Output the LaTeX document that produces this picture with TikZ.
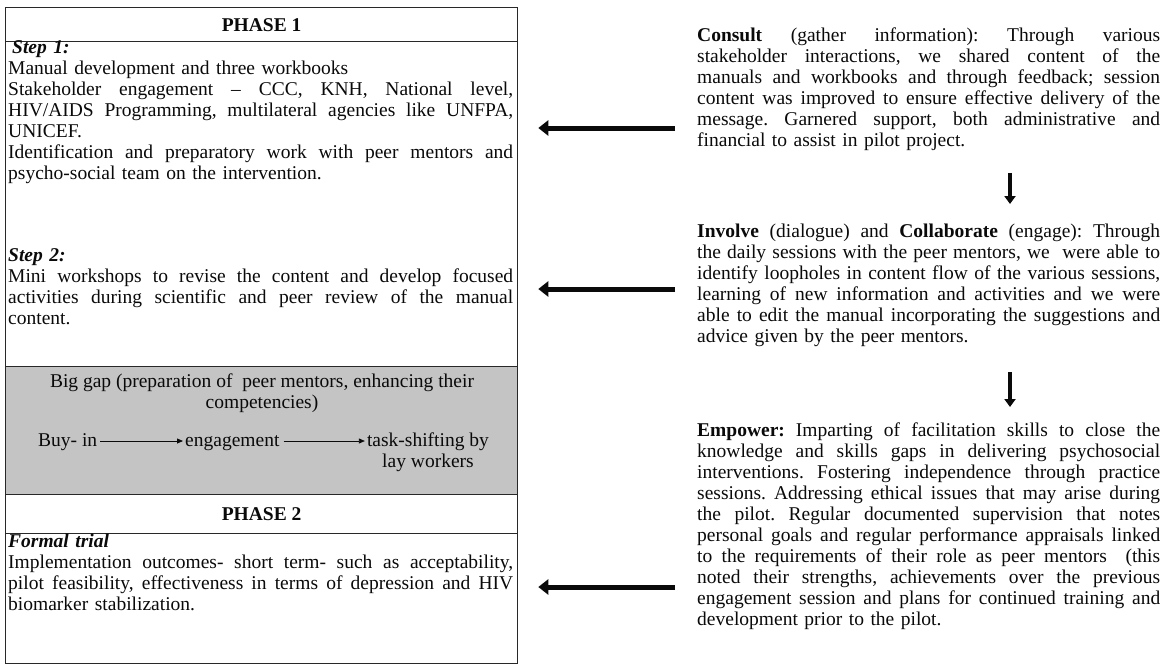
\documentclass[tikz,border=0pt]{standalone}
\usepackage{fontspec}
\setmainfont{Liberation Serif}
\usetikzlibrary{arrows.meta}
\definecolor{boxgray}{RGB}{196,196,196}
\definecolor{edge}{RGB}{40,40,40}
\definecolor{ink}{RGB}{10,10,10}
\newcommand\jbox[2]{\noindent\hbox to #1{\spaceskip=0.25em plus 1fil\xspaceskip=0.25em plus 1fil\relax\strut #2}\par}
\newcommand\jl[1]{\jbox{505pt}{#1}}
\newcommand\jr[1]{\jbox{463pt}{#1}}
\newcommand\pline[1]{\noindent\hbox{\strut #1}\par}
\frenchspacing
\begin{document}
\begin{tikzpicture}[x=1pt,y=-1pt,
  every node/.style={font=\fontsize{19.5}{21}\selectfont\frenchspacing, text=ink},
  cell/.style={draw=edge, line width=1.3pt, rectangle, inner sep=0pt, anchor=north west, minimum width=512pt},
  para/.style={anchor=north west, inner sep=0pt, text width=#1},
  bigarrow/.style={draw=ink, line width=5pt, -{Triangle[length=10pt,width=15pt]}},
  downarrow/.style={draw=ink, line width=3.5pt, -{Triangle[length=8pt,width=11pt]}},
  thinarrow/.style={draw=ink, line width=0.8pt, -{Triangle[length=6pt,width=5pt]}},
  plain/.style={inner sep=0pt}]
\useasboundingbox (0,0) rectangle (1165,667);
\fill[white] (0,0) rectangle (1165,667);

% left table
\node[cell, minimum height=34pt] (ph1) at (5,7) {\textbf{PHASE 1}};
\node[cell, minimum height=325pt] (steps) at (5,41) {};
\node[cell, fill=boxgray, minimum height=128pt] (gap) at (5,366) {};
\node[cell, minimum height=39pt] (ph2) at (5,494) {\textbf{PHASE 2}};
\node[cell, minimum height=130pt] (trial) at (5,533) {};

\node[para=505pt] (step1) at (8,39) {%
\pline{\hspace{4pt}\textbf{\textit{Step 1:}}}
\pline{Manual development and three workbooks}
\jl{Stakeholder engagement – CCC, KNH, National level,}
\jl{HIV/AIDS Programming, multilateral agencies like UNFPA,}
\pline{UNICEF.}
\jl{Identification and preparatory work with peer mentors and}
\pline{psycho-social team on the intervention.}};

\node[para=505pt] (step2) at (8,247) {%
\pline{\textbf{\textit{Step 2:}}}
\jl{Mini workshops to revise the content and develop focused}
\jl{activities during scientific and peer review of the manual}
\pline{content.}};

\node[plain, anchor=north, align=center] (gaptext) at (262,373) {%
\strut Big gap (preparation of\ \ peer mentors, enhancing their\\\strut competencies)};

\node[plain, anchor=base west] (buyin) at (38,446) {Buy- in};
\node[plain, anchor=base west] (engage) at (185,446) {engagement};
\node[plain, anchor=north, align=center] (task) at (428,431.3) {\strut task-shifting by\\\strut lay workers};
\coordinate (rowy) at (0,441);
\draw[thinarrow, shorten <=3pt, shorten >=2pt] (buyin.east |- rowy) -- (engage.west |- rowy);
\draw[thinarrow, shorten <=4pt, shorten >=2pt] (engage.east |- rowy) -- (task.west |- rowy);

\node[para=505pt] (trialtext) at (8,533) {%
\pline{\textbf{\textit{Formal trial}}}
\jl{Implementation outcomes- short term- such as acceptability,}
\jl{pilot feasibility, effectiveness in terms of depression and HIV}
\pline{biomarker stabilization.}};

% right column
\node[para=463pt] (consult) at (697,26.3) {%
\jr{\textbf{Consult} (gather information): Through various}
\jr{stakeholder interactions, we shared content of the}
\jr{manuals and workbooks and through feedback; session}
\jr{content was improved to ensure effective delivery of the}
\jr{message. Garnered support, both administrative and}
\pline{financial to assist in pilot project.}};

\node[para=463pt] (involve) at (697,222.3) {%
\jr{\textbf{Involve} (dialogue) and \textbf{Collaborate} (engage): Through}
\jr{the daily sessions with the peer mentors, we\ \ were able to}
\jr{identify loopholes in content flow of the various sessions,}
\jr{learning of new information and activities and we were}
\jr{able to edit the manual incorporating the suggestions and}
\pline{advice given by the peer mentors.}};

\node[para=463pt] (empower) at (697,421.3) {%
\jr{\textbf{Empower:} Imparting of facilitation skills to close the}
\jr{knowledge and skills gaps in delivering psychosocial}
\jr{interventions. Fostering independence through practice}
\jr{sessions. Addressing ethical issues that may arise during}
\jr{the pilot. Regular documented supervision that notes}
\jr{personal goals and regular performance appraisals linked}
\jr{to the requirements of their role as peer mentors\ \ (this}
\jr{noted their strengths, achievements over the previous}
\jr{engagement session and plans for continued training and}
\pline{development prior to the pilot.}};

% connectors
\coordinate (y1) at (0,128);
\coordinate (y2) at (0,289);
\coordinate (y3) at (0,587);
\coordinate (dx) at (1010,0);
\draw[bigarrow, shorten <=22pt, shorten >=20pt] (consult.west |- y1) -- (steps.east |- y1);
\draw[bigarrow, shorten <=22pt, shorten >=20pt] (involve.west |- y2) -- (steps.east |- y2);
\draw[bigarrow, shorten <=22pt, shorten >=20pt] (empower.west |- y3) -- (trial.east |- y3);
\draw[downarrow, shorten <=20.7pt, shorten >=18.3pt] (consult.south -| dx) -- (involve.north -| dx);
\draw[downarrow, shorten <=23.7pt, shorten >=14.3pt] (involve.south -| dx) -- (empower.north -| dx);
\end{tikzpicture}
\end{document}
